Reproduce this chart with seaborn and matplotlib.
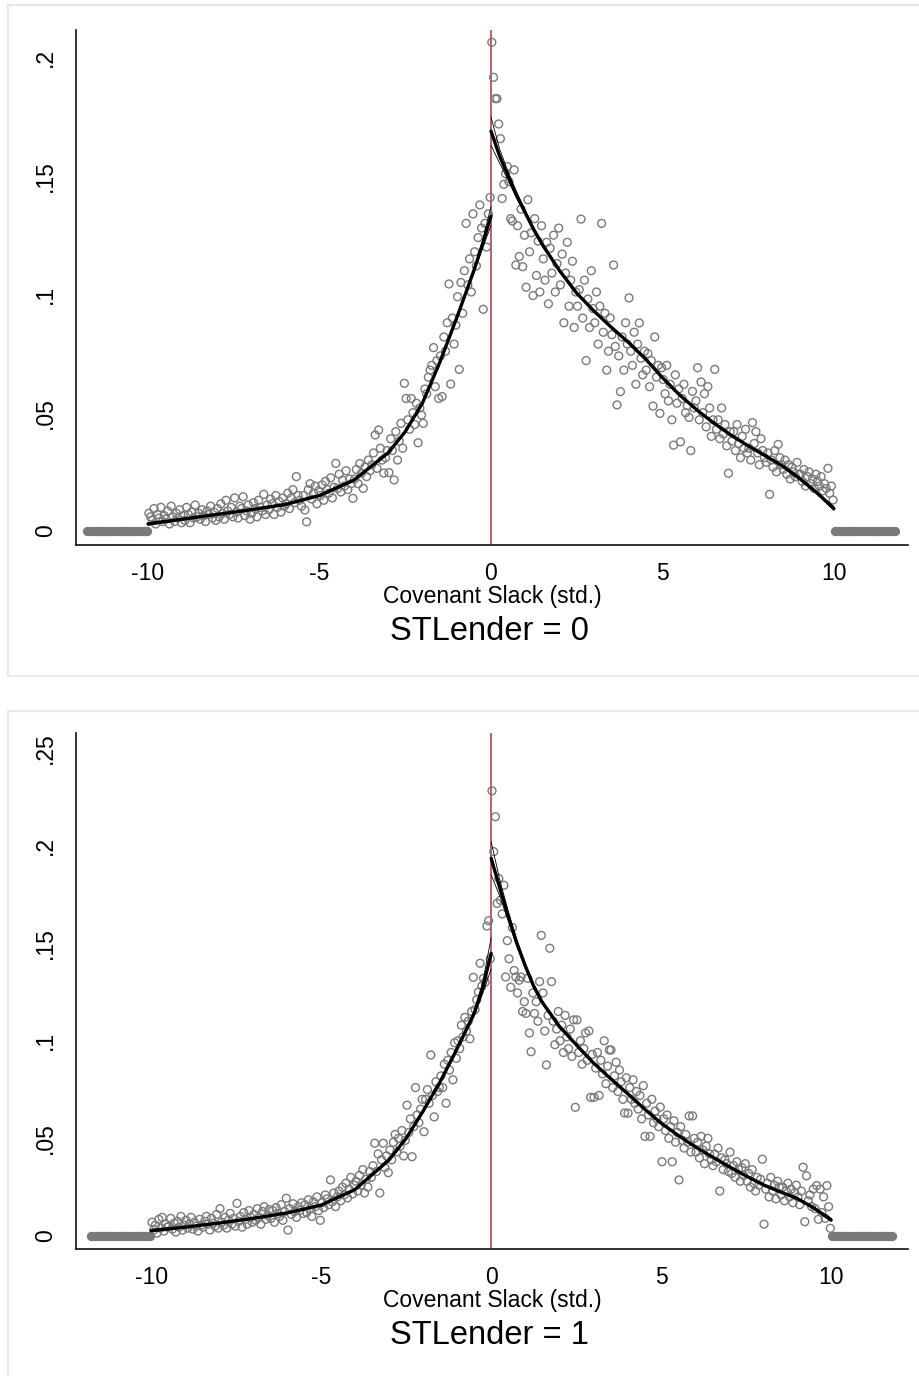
import numpy as np
import pandas as pd
import matplotlib
matplotlib.use("Agg")
import matplotlib.pyplot as plt
from matplotlib.patches import Rectangle
import seaborn as sns

# ---------------------------------------------------------------------------
# Bin densities (in units of 1e-4), bin width 0.05, left / right of the cutoff
# ---------------------------------------------------------------------------
BIN_W = 0.05

dens0_left = [
    75, 60, 45, 95, 30, 70, 55, 100, 40, 65,
    50, 85, 30, 105, 60, 40, 75, 55, 90, 35,
    65, 45, 100, 70, 35, 80, 55, 110, 60, 75,
    50, 90, 65, 40, 85, 70, 105, 55, 80, 45,
    95, 60, 115, 75, 50, 130, 85, 70, 100, 60,
    140, 80, 55, 105, 95, 145, 65, 85, 110, 50,
    75, 120, 95, 60, 130, 100, 85, 155, 70, 110,
    90, 135, 115, 70, 150, 100, 125, 80, 140, 105,
    115, 160, 95, 140, 175, 120, 230, 150, 130, 105,
    150, 89, 39, 175, 200, 135, 160, 190, 115, 170,
    150, 195, 130, 210, 175, 160, 225, 140, 185, 286,
    180, 240, 165, 215, 190, 255, 175, 220, 200, 138,
    220, 260, 200, 285, 245, 180, 270, 230, 300, 255,
    280, 330, 406, 265, 427, 350, 300, 245, 310, 340,
    247, 390, 340, 216, 420, 300, 380, 455, 350, 624,
    560, 470, 430, 560, 500, 450, 540, 373, 520, 490,
    455, 600, 580, 650, 680, 700, 775, 610, 720, 560,
    740, 568, 820, 760, 880, 1044, 621, 900, 790, 870,
    990, 683, 1050, 920, 1100, 1300, 1040, 1150, 1010, 1340,
    1180, 1120, 1240, 1378, 1280, 937, 1300, 1200, 1340, 1410,
]

dens0_right = [
    2065, 1917, 1827, 1827, 1720, 1658, 1405, 1465, 1510, 1540,
    1476, 1320, 1310, 1526, 1124, 1290, 1160, 1360, 1117, 1250,
    1030, 1400, 1180, 1260, 995, 1320, 1080, 1225, 1010, 1290,
    1150, 1060, 1220, 960, 1195, 1090, 1250, 1010, 1130, 1280,
    1040, 1170, 880, 1090, 1220, 950, 1060, 1140, 860, 1010,
    950, 1020, 1318, 900, 1060, 720, 980, 860, 1100, 940,
    880, 1010, 790, 950, 1300, 840, 920, 680, 760, 900,
    830, 1124, 780, 533, 740, 589, 820, 680, 880, 790,
    985, 760, 700, 840, 620, 790, 879, 730, 660, 760,
    680, 750, 610, 720, 528, 820, 650, 700, 497, 690,
    640, 580, 700, 550, 620, 470, 363, 660, 540, 600,
    377, 560, 620, 500, 530, 480, 340, 590, 520, 550,
    690, 470, 630, 500, 580, 440, 610, 520, 400, 470,
    683, 430, 470, 390, 520, 410, 450, 360, 244, 420,
    380, 420, 340, 450, 370, 310, 400, 350, 430, 330,
    350, 300, 458, 370, 420, 330, 280, 390, 340, 310,
    290, 330, 155, 300, 270, 340, 250, 366, 310, 280,
    260, 300, 240, 280, 220, 270, 250, 230, 290, 240,
    240, 210, 260, 190, 230, 250, 200, 220, 180, 240,
    210, 190, 230, 170, 200, 180, 265, 160, 190, 131,
]

dens1_left = [
    70, 30, 55, 15, 85, 40, 95, 25, 60, 45,
    50, 90, 35, 65, 20, 75, 45, 100, 30, 55,
    80, 40, 60, 95, 35, 70, 50, 25, 85, 55,
    45, 75, 100, 60, 30, 90, 65, 50, 110, 40,
    140, 70, 55, 95, 40, 80, 115, 60, 90, 50,
    167, 75, 100, 45, 120, 85, 60, 130, 95, 70,
    110, 80, 140, 95, 60, 125, 150, 85, 105, 135,
    90, 130, 70, 145, 115, 100, 160, 80, 125, 193,
    30, 140, 110, 165, 125, 95, 150, 130, 170, 115,
    160, 120, 185, 140, 100, 175, 150, 200, 130, 80,
    170, 145, 210, 190, 160, 287, 175, 220, 150, 200,
    230, 180, 250, 210, 270, 195, 240, 300, 215, 260,
    280, 230, 310, 260, 340, 220, 290, 250, 330, 300,
    360, 475, 330, 420, 220, 390, 475, 350, 410, 324,
    440, 390, 480, 520, 430, 500, 460, 540, 410, 490,
    670, 530, 600, 406, 560, 760, 620, 580, 650, 700,
    534, 700, 750, 680, 927, 720, 610, 790, 740, 760,
    820, 760, 880, 680, 900, 850, 940, 800, 990, 910,
    1000, 960, 1080, 1020, 1120, 1050, 1100, 1010, 1150, 1325,
    1160, 1210, 1250, 1397, 1280, 1320, 1300, 1588, 1615, 1420,
]

dens1_right = [
    2281, 1969, 2148, 1704, 1832, 1720, 1650, 1797, 1327, 1513,
    1420, 1274, 1580, 1360, 1327, 1245, 1310, 1327, 1150, 1200,
    1140, 1320, 1040, 944, 1245, 1140, 1200, 1100, 1303, 1540,
    1245, 1050, 876, 1130, 1474, 1303, 1100, 980, 1060, 1150,
    1000, 1080, 940, 1130, 1020, 960, 1060, 920, 1107, 659,
    1107, 940, 1000, 880, 960, 1040, 900, 1050, 710, 930,
    710, 860, 940, 720, 900, 830, 1000, 780, 870, 953,
    953, 760, 820, 890, 740, 850, 790, 700, 630, 810,
    629, 760, 700, 800, 680, 740, 650, 720, 600, 770,
    510, 680, 620, 510, 700, 580, 640, 600, 560, 660,
    380, 600, 540, 620, 500, 560, 380, 590, 480, 530,
    287, 560, 490, 450, 520, 480, 615, 430, 615, 500,
    430, 480, 400, 510, 440, 370, 460, 500, 420, 390,
    360, 420, 380, 450, 230, 400, 340, 390, 370, 330,
    429, 320, 360, 300, 380, 340, 280, 350, 310, 370,
    280, 320, 250, 340, 270, 230, 300, 260, 290, 393,
    60, 240, 270, 200, 300, 230, 260, 190, 280, 250,
    210, 250, 180, 230, 270, 200, 240, 170, 220, 260,
    200, 160, 230, 352, 73, 308, 180, 210, 150, 240,
    140, 258, 85, 240, 120, 200, 90, 258, 150, 39,
]

# Empty bins beyond the trimmed support (|x| > 10)
N_EMPTY = 36

# Local-linear density fits and half-widths of their confidence bands
fit_left_x = [-10, -9, -8, -7, -6, -5, -4, -3, -2.5, -2, -1.5, -1, -0.5, -0.25, 0]
fit_right_x = [0, 0.25, 0.5, 0.75, 1, 1.25, 1.5, 2, 2.5, 3, 3.5, 4, 4.5, 5, 5.5,
               6, 6.5, 7, 7.5, 8, 8.5, 9, 9.5, 10]

fit0_left_y = [0.0030, 0.0050, 0.0070, 0.0090, 0.0112, 0.0150, 0.0215, 0.0330,
               0.0420, 0.0540, 0.0710, 0.0900, 0.1100, 0.1210, 0.1330]
fit0_right_y = [0.1690, 0.1585, 0.1500, 0.1418, 0.1345, 0.1273, 0.1210, 0.1100,
                0.1005, 0.0930, 0.0862, 0.0798, 0.0728, 0.0648, 0.0575, 0.0512,
                0.0456, 0.0405, 0.0360, 0.0318, 0.0275, 0.0222, 0.0162, 0.0095]
fit1_left_y = [0.0027, 0.0045, 0.0066, 0.0090, 0.0118, 0.0158, 0.0238, 0.0390,
               0.0500, 0.0640, 0.0790, 0.0960, 0.1140, 0.1270, 0.1448]
fit1_right_y = [0.1935, 0.1785, 0.1640, 0.1503, 0.1385, 0.1280, 0.1198, 0.1075,
                0.0980, 0.0888, 0.0808, 0.0731, 0.0652, 0.0578, 0.0515, 0.0457,
                0.0405, 0.0355, 0.0307, 0.0262, 0.0226, 0.0192, 0.0142, 0.0082]

ci0_left = [0.0006, 0.0003, 0.0002, 0.0002, 0.0002, 0.0002, 0.0002, 0.0003,
            0.0003, 0.0004, 0.0005, 0.0006, 0.0009, 0.0016, 0.0040]
ci0_right = [0.0060, 0.0030, 0.0018, 0.0013, 0.0010, 0.0008, 0.0007, 0.0005,
             0.0004, 0.0004, 0.0003, 0.0003, 0.0003, 0.0003, 0.0003, 0.0003,
             0.0003, 0.0003, 0.0003, 0.0003, 0.0003, 0.0004, 0.0005, 0.0008]
ci1_left = [0.0006, 0.0003, 0.0002, 0.0002, 0.0002, 0.0002, 0.0003, 0.0003,
            0.0004, 0.0005, 0.0006, 0.0008, 0.0014, 0.0028, 0.0080]
ci1_right = [0.0085, 0.0042, 0.0025, 0.0017, 0.0012, 0.0010, 0.0008, 0.0006,
             0.0005, 0.0004, 0.0004, 0.0004, 0.0003, 0.0003, 0.0003, 0.0003,
             0.0003, 0.0003, 0.0003, 0.0003, 0.0003, 0.0004, 0.0005, 0.0008]

panel_titles = ["STLender = 0", "STLender = 1"]
x_label = "Covenant Slack (std.)"
x_ticks = [-10, -5, 0, 5, 10]
y_ticks = [[0, 0.05, 0.10, 0.15, 0.20], [0, 0.05, 0.10, 0.15, 0.20, 0.25]]
y_ticklabels = [["0", ".05", ".1", ".15", ".2"], ["0", ".05", ".1", ".15", ".2", ".25"]]

# ---------------------------------------------------------------------------
sns.set_style("white")
plt.rcParams["font.family"] = ["Liberation Sans", "DejaVu Sans"]

W, H = 919, 1376
fig = plt.figure(figsize=(W / 100, H / 100), dpi=100)
fig.patch.set_facecolor("white")


def fx(px):
    return px / W


def fy(py):
    return 1 - py / H


PT_GRAY = "#7a7a7a"
CUT_RED = "#a8353f"

panels = [
    dict(dl=dens0_left, dr=dens0_right, fl=fit0_left_y, fr=fit0_right_y,
         cl=ci0_left, cr=ci0_right, ax_top=30, ax_bot=545,
         ylim=(-0.0059, 0.2117), xlim=(-12.10, 12.16),
         frame=(8, 5, 676), label_y=596, title_y=631),
    dict(dl=dens1_left, dr=dens1_right, fl=fit1_left_y, fr=fit1_right_y,
         cl=ci1_left, cr=ci1_right, ax_top=733, ax_bot=1249,
         ylim=(-0.0067, 0.2577), xlim=(-12.21, 12.26),
         frame=(8, 711, 1380), label_y=1300, title_y=1335),
]

for k, p in enumerate(panels):
    # light panel frame
    x0, ytop, ybot = p["frame"]
    fig.patches.append(Rectangle((fx(x0), fy(ybot)), fx(W + 5 - x0), (ybot - ytop) / H,
                                 transform=fig.transFigure, fill=False,
                                 edgecolor="#e4ebeb", linewidth=1.6, zorder=0))

    ax = fig.add_axes([fx(76), fy(p["ax_bot"]), fx(908 - 76),
                       (p["ax_bot"] - p["ax_top"]) / H])
    ax.set_facecolor("white")

    n_l = len(p["dl"])
    n_r = len(p["dr"])
    x_left = -10 + BIN_W / 2 + BIN_W * np.arange(n_l)
    x_right = BIN_W / 2 + BIN_W * np.arange(n_r)
    x_empty = np.concatenate([-10 - BIN_W / 2 - BIN_W * np.arange(N_EMPTY),
                              10 + BIN_W / 2 + BIN_W * np.arange(N_EMPTY)])

    bins = pd.DataFrame({
        "x": np.concatenate([x_left, x_right]),
        "y": np.concatenate([np.array(p["dl"]) / 1e4, np.array(p["dr"]) / 1e4]),
    })
    empty = pd.DataFrame({"x": x_empty, "y": np.zeros(len(x_empty))})

    ax.axvline(0, color=CUT_RED, lw=1.1, zorder=1)

    sns.scatterplot(data=bins, x="x", y="y", marker="o", s=32,
                    facecolor="none", edgecolor=PT_GRAY, linewidth=1.0,
                    ax=ax, zorder=2, legend=False)
    sns.scatterplot(data=empty, x="x", y="y", marker="o", s=32,
                    color=PT_GRAY, edgecolor=PT_GRAY, linewidth=1.0,
                    ax=ax, zorder=2, legend=False)

    for xs, ys, cs in [(fit_left_x, p["fl"], p["cl"]), (fit_right_x, p["fr"], p["cr"])]:
        xs = np.asarray(xs, float)
        ys = np.asarray(ys, float)
        cs = np.asarray(cs, float)
        for band in (ys + cs, ys - cs):
            sns.lineplot(x=xs, y=band, color="black", lw=0.6, sort=False,
                         estimator=None, ax=ax, zorder=3)
        sns.lineplot(x=xs, y=ys, color="black", lw=2.4, sort=False,
                     estimator=None, ax=ax, zorder=4)

    ax.set_xlim(*p["xlim"])
    ax.set_ylim(*p["ylim"])
    ax.set_xticks(x_ticks)
    ax.set_xticklabels([str(t) for t in x_ticks])
    ax.set_yticks(y_ticks[k])
    ax.set_yticklabels(y_ticklabels[k], rotation=90, va="center")
    ax.set_xlabel("")
    ax.set_ylabel("")

    for side in ("top", "right"):
        ax.spines[side].set_visible(False)
    for side in ("left", "bottom"):
        ax.spines[side].set_color("#111111")
        ax.spines[side].set_linewidth(1.2)
    ax.tick_params(axis="both", direction="out", length=6.5, width=1.1,
                   color="#111111", labelsize=16.5, labelcolor="black")
    ax.tick_params(axis="x", pad=6)
    ax.tick_params(axis="y", pad=7)

    fig.text(fx(492), fy(p["label_y"]), x_label, ha="center", va="center",
             fontsize=16.5, color="black")
    fig.text(fx(489), fy(p["title_y"]), panel_titles[k], ha="center", va="center",
             fontsize=23.5, color="black")

fig.savefig("out.png", dpi=100, facecolor="white")
